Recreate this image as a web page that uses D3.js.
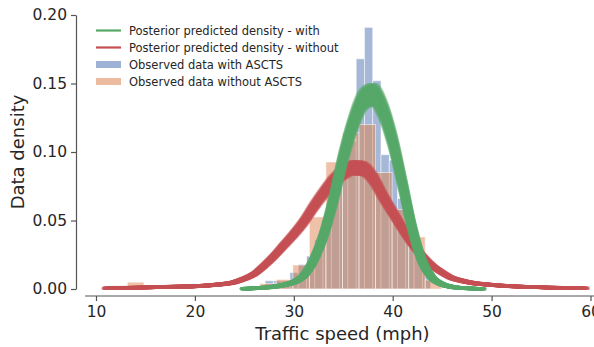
<!DOCTYPE html>
<html><head><meta charset="utf-8">
<script src="https://d3js.org/d3.v7.min.js"></script>
<style>body{margin:0;background:#fff}</style>
</head><body>
<svg id="c" width="594" height="347"></svg>
<script>
// ---- data ----
const xTicks = [10, 20, 30, 40, 50, 60];
const yTicks = [0, 0.05, 0.10, 0.15, 0.20];

// Observed data without ASCTS (orange histogram): bin starts share one width
const withoutBinStart = 11.5, withoutBinWidth = 1.673;
const withoutDensity = [0.0025, 0.005, 0.0025, 0, 0, 0, 0, 0, 0, 0.004,
  0.007, 0.0175, 0.0526, 0.0927, 0.114, 0.120, 0.085, 0.058, 0.038, 0.0066];

// Observed data with ASCTS (blue histogram)
const withBinStart = 27.1, withBinWidth = 0.837;
const withDensity = [0.006, 0.006, 0.006, 0.012, 0.018, 0.024, 0.036, 0.048, 0.066, 0.09,
  0.108, 0.168, 0.191, 0.152, 0.098, 0.094, 0.066, 0.048, 0.03, 0.015];

// Posterior predicted density - with (green)
const greenX = [25, 26, 27, 28, 29, 30, 31, 32, 33, 34, 35, 36, 37, 38, 39, 40, 41, 42, 43, 44, 45, 46, 47, 48, 49];
const greenY = [0.0002, 0.0005, 0.001, 0.0017, 0.003, 0.005, 0.0097, 0.021, 0.039, 0.065, 0.096, 0.121, 0.138, 0.142,
  0.131, 0.108, 0.0765, 0.0436, 0.020, 0.008, 0.0034, 0.0015, 0.0007, 0.0003, 0.0001];

// Posterior predicted density - without (red)
const redX = [11, 12, 14, 16, 18, 20, 22, 24, 25, 26, 27, 28, 29, 30, 31, 32, 33, 34, 35, 36, 37, 38, 39, 40,
  41, 42, 43, 44, 45, 46, 47, 48, 50, 52, 54, 56, 58, 59.5];
const redY = [0.0005, 0.0007, 0.001, 0.0013, 0.0017, 0.002, 0.003, 0.005, 0.0075, 0.011, 0.017, 0.024, 0.032, 0.040,
  0.049, 0.060, 0.070, 0.079, 0.085, 0.0885, 0.088, 0.081, 0.068, 0.056, 0.044, 0.033, 0.024, 0.017, 0.012, 0.008,
  0.006, 0.0045, 0.003, 0.002, 0.0015, 0.001, 0.0007, 0.0005];

const legendItems = [
  {label: "Posterior predicted density - with", color: "#55A868", kind: "line"},
  {label: "Posterior predicted density - without", color: "#C44E52", kind: "line"},
  {label: "Observed data with ASCTS", color: "#4C72B0", kind: "patch"},
  {label: "Observed data without ASCTS", color: "#DD8452", kind: "patch"}
];

// ---- drawing ----
const svg = d3.select("#c");
const font = "DejaVu Sans, sans-serif";
const ink = "#262626";
const x = d3.scaleLinear().domain([10, 60]).range([96, 590.5]);
const y = d3.scaleLinear().domain([0, 0.2]).range([289, 15]);

const defs = svg.append("defs");
defs.append("filter").attr("id", "soft").attr("x", "-5%").attr("y", "-5%").attr("width", "110%").attr("height", "110%")
  .append("feGaussianBlur").attr("stdDeviation", 0.7);
function grad(id, color, fade) {
  const g = defs.append("linearGradient").attr("id", id).attr("gradientUnits", "userSpaceOnUse")
    .attr("x1", 0).attr("x2", 594).attr("y1", 0).attr("y2", 0);
  fade.forEach(([v, o]) => g.append("stop").attr("offset", x(v) / 594).attr("stop-color", color).attr("stop-opacity", o));
}
grad("redG", "#C44E52", [[11, 0.35], [22, 1], [48, 1], [59.5, 0.3]]);
grad("greenG", "#55A868", [[25, 0.5], [30, 1], [45, 1], [49, 0.5]]);

function bars(start, width, dens, color) {
  const data = dens.map((d, i) => ({x0: start + i * width, x1: start + (i + 1) * width, d}));
  svg.append("g").selectAll("rect").data(data.filter(b => b.d > 0)).join("rect")
    .attr("x", b => x(b.x0)).attr("width", b => x(b.x1) - x(b.x0))
    .attr("y", b => y(b.d)).attr("height", b => y(0) - y(b.d))
    .attr("fill", color).attr("fill-opacity", 0.5)
    .attr("stroke", "#fff").attr("stroke-width", 0.9).attr("stroke-opacity", 0.6);
}
bars(withBinStart, withBinWidth, withDensity, "#4C72B0");
bars(withoutBinStart, withoutBinWidth, withoutDensity, "#DD8452");

// posterior predictive bands: the same curve drawn with small shifts/scales (band look)
const line = d3.line().x(d => x(d[0])).y(d => y(d[1])).curve(d3.curveMonotoneX);
function band(xs, ys, stroke, scales, shifts, op) {
  const g = svg.append("g").attr("filter", "url(#soft)");
  const pts = xs.map((v, i) => [v, ys[i]]);
  const y0 = y(0);
  scales.forEach(s => shifts.forEach(dx => {
    g.append("path").datum(pts).attr("d", line)
      .attr("transform", `translate(${dx},${y0 * (1 - s)}) scale(1,${s})`)
      .attr("vector-effect", "non-scaling-stroke")
      .attr("fill", "none").attr("stroke", stroke).attr("stroke-width", 3.5)
      .attr("stroke-opacity", op).attr("stroke-linecap", "round");
  }));
}
band(redX, redY, "url(#redG)", [0.95, 0.9625, 0.975, 0.9875, 1, 1.0125, 1.025, 1.0375, 1.05], [-2.5, -1.25, 0, 1.25, 2.5], 0.45);
band(greenX, greenY, "url(#greenG)", [0.95, 0.9625, 0.975, 0.9875, 1, 1.0125, 1.025, 1.0375, 1.05], [-3, -1.5, 0, 1.5, 3], 0.5);

// axes
const gx = svg.append("g").attr("transform", "translate(0,296)")
  .call(d3.axisBottom(x).tickValues(xTicks).tickSize(5).tickPadding(5).tickFormat(d3.format("d")));
gx.select(".domain").remove();
gx.append("line").attr("x1", x(8.9)).attr("x2", 600).attr("stroke", "#555").attr("stroke-width", 1.2);
const gy = svg.append("g").attr("transform", "translate(76,0)")
  .call(d3.axisLeft(y).tickValues(yTicks).tickSize(5).tickPadding(4).tickSizeOuter(0).tickFormat(d3.format(".2f")));
[gx, gy].forEach(g => {
  g.selectAll(".tick line").attr("stroke", "#555").attr("stroke-width", 1.2);
  g.selectAll(".tick text").attr("font-family", font).attr("font-size", 15.5).attr("fill", ink);
  g.select(".domain").attr("stroke", "#555").attr("stroke-width", 1.2);
});

svg.append("text").attr("x", 342.5).attr("y", 340).attr("text-anchor", "middle")
  .attr("font-family", font).attr("font-size", 18).attr("fill", ink).text("Traffic speed (mph)");
svg.append("text").attr("transform", "translate(24,152) rotate(-90)").attr("text-anchor", "middle")
  .attr("font-family", font).attr("font-size", 18).attr("fill", ink).text("Data density");

// legend
const lg = svg.append("g");
legendItems.forEach((it, i) => {
  const cy = 30.5 + i * 17;
  if (it.kind === "line") {
    lg.append("line").attr("x1", 96).attr("x2", 121).attr("y1", cy).attr("y2", cy)
      .attr("stroke", it.color).attr("stroke-width", 2.2);
  } else {
    lg.append("rect").attr("x", 96).attr("y", cy - 3.5).attr("width", 25).attr("height", 7)
      .attr("fill", it.color).attr("fill-opacity", 0.55);
  }
  lg.append("text").attr("x", 129).attr("y", cy).attr("dy", "0.35em")
    .attr("font-family", font).attr("font-size", 11.5).attr("fill", ink).text(it.label);
});
</script>
</body></html>
